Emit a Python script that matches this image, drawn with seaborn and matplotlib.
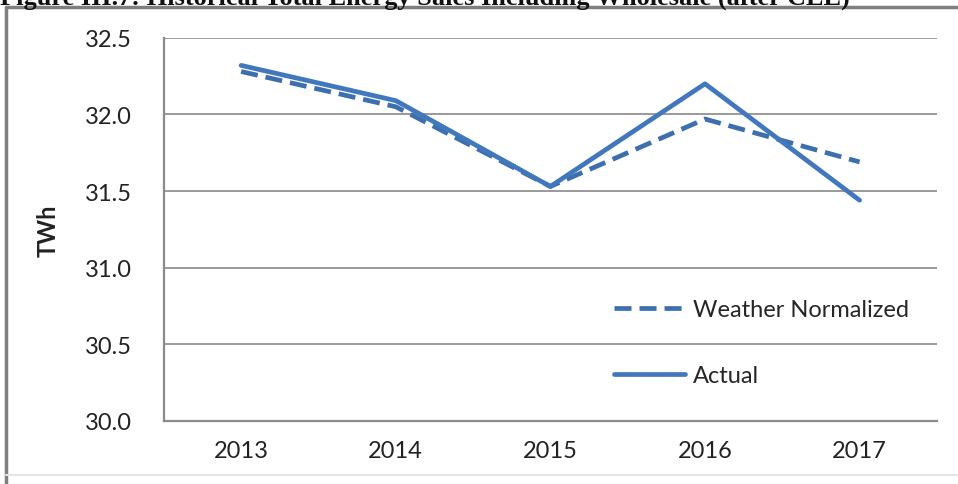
import matplotlib
matplotlib.use("Agg")
import matplotlib.pyplot as plt
import seaborn as sns
import pandas as pd
from matplotlib.lines import Line2D

years = ["2013", "2014", "2015", "2016", "2017"]
actual = [32.32, 32.09, 31.53, 32.20, 31.44]
weather_normalized = [32.28, 32.05, 31.53, 31.97, 31.69]
y_ticks = [30.0, 30.5, 31.0, 31.5, 32.0, 32.5]
title = "Figure III.7: Historical Total Energy Sales Including Wholesale (after CEE)"

df = pd.DataFrame({
    "Year": years * 2,
    "TWh": weather_normalized + actual,
    "Series": ["Weather Normalized"] * len(years) + ["Actual"] * len(years),
})

sns.set_theme(style="white")
plt.rcParams["font.family"] = ["Lato", "DejaVu Sans"]

fig = plt.figure(figsize=(9.58, 4.85), dpi=100)
ax = fig.add_axes([0.171, 0.13, 0.807, 0.79])

actual_color = "#4177bd"
weather_color = "#3d6fae"
dash = (3.6, 1.7)
lw = 3.4
sns.lineplot(data=df, x="Year", y="TWh", hue="Series", style="Series",
             palette={"Weather Normalized": weather_color, "Actual": actual_color},
             dashes={"Weather Normalized": dash, "Actual": ""},
             linewidth=lw, ax=ax, legend=False, sort=False)

ax.set_xlim(-0.5, len(years) - 0.5)
ax.set_ylim(30.0, 32.5)
ax.set_yticks(y_ticks)
ax.set_yticklabels([f"{v:.1f}" for v in y_ticks], fontsize=17, color="#222222")
ax.set_xticks(range(len(years)))
ax.set_xticklabels(years, fontsize=17, color="#222222")
ax.set_xticks([i - 0.5 for i in range(len(years) + 1)], minor=True)
ax.tick_params(axis="x", which="major", length=0, pad=14)
ax.tick_params(axis="x", which="minor", length=7, width=1.2, color="#8a8a8a", direction="out")
ax.tick_params(axis="y", which="major", length=7, width=1.2, color="#8a8a8a", direction="out", pad=16)

ax.grid(axis="y", color="#9a9a9a", linewidth=1.4)
ax.set_axisbelow(True)
for side in ["top", "right"]:
    ax.spines[side].set_visible(False)
for side in ["left", "bottom"]:
    ax.spines[side].set_color("#8a8a8a")
    ax.spines[side].set_linewidth(1.6)

ax.set_xlabel("")
ax.set_ylabel("TWh", fontsize=17, fontweight="bold", color="#222222", labelpad=18)

handles = [
    Line2D([], [], color=weather_color, linewidth=lw, dashes=dash),
    Line2D([], [], color=actual_color, linewidth=lw),
]
ax.legend(handles, ["Weather Normalized", "Actual"], loc="lower left",
          bbox_to_anchor=(0.555, 0.035), frameon=False, fontsize=17,
          handlelength=3.0, handletextpad=0.35, labelspacing=1.9)

# Page frame and clipped caption above the chart
fig.add_artist(Line2D([0.006, 0.006], [0.0, 0.984], transform=fig.transFigure,
                      color="#7f7f7f", linewidth=2.5))
fig.add_artist(Line2D([0.006, 1.0], [0.984, 0.984], transform=fig.transFigure,
                      color="#7f7f7f", linewidth=2.5))
fig.add_artist(Line2D([0.006, 1.0], [0.018, 0.018], transform=fig.transFigure,
                      color="#e4e4e4", linewidth=1.5))
fig.text(0.0, 1 - 4.5 / 485, title, fontsize=19, fontweight="bold",
         family=["Liberation Serif", "DejaVu Serif"], va="baseline", ha="left",
         color="#111111")

fig.savefig("out.png", dpi=100, facecolor="white")
